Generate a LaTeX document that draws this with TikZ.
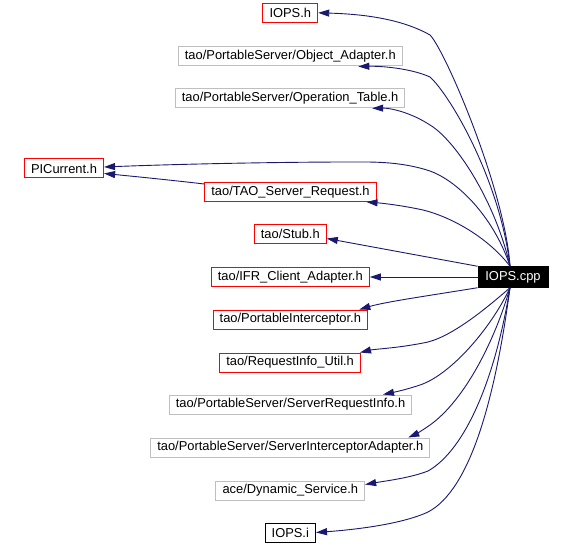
\documentclass[tikz,border=0pt]{standalone}
\usepackage{fontspec}
\setmainfont{Liberation Sans}
\usetikzlibrary{arrows.meta,calc}
\definecolor{edgeblue}{HTML}{191970}
\definecolor{boxred}{HTML}{FF0000}
\definecolor{boxgray}{HTML}{BFBFBF}
\tikzset{
  filebox/.style={draw, line width=1pt, rectangle, inner xsep=6.6pt, inner ysep=0pt,
    minimum height=19pt, font=\fontsize{12.9}{14}\selectfont, anchor=center},
  redbox/.style={filebox, draw=boxred},
  graybox/.style={filebox, draw=boxgray},
  blackbox/.style={filebox, draw=black},
  mainbox/.style={filebox, draw=black, fill=black, text=white, minimum width=70pt, minimum height=20.5pt},
  edge/.style={draw=edgeblue, line width=0.9pt, -{Triangle[length=11pt,width=7pt]}},
}
\begin{document}
\begin{tikzpicture}[x=1pt,y=-1pt]
\useasboundingbox (0,0) rectangle (572,545);
\fill[white] (0,0) rectangle (572,545);
% nodes
\node[redbox]   (iopsh) at (290.3,12.8)  {IOPS.h};
\node[graybox]  (oa)    at (290.3,56.5)  {tao/PortableServer/Object\_Adapter.h};
\node[graybox]  (ot)    at (290.1,98.3)  {tao/PortableServer/Operation\_Table.h};
\node[redbox]   (pic)   at (64,168.5)    {PICurrent.h};
\node[redbox]   (tao)   at (290.5,192)   {tao/TAO\_Server\_Request.h};
\node[redbox]   (stub)  at (290.3,234)   {tao/Stub.h};
\node[redbox]   (ifr)   at (290.3,277)   {tao/IFR\_Client\_Adapter.h};
\node[redbox]   (pi)    at (290.3,319.5) {tao/PortableInterceptor.h};
\node[redbox]   (riu)   at (290.1,362.5) {tao/RequestInfo\_Util.h};
\node[graybox]  (sri)   at (290.5,404.5) {tao/PortableServer/ServerRequestInfo.h};
\node[graybox]  (sia)   at (290.3,447.5) {tao/PortableServer/ServerInterceptorAdapter.h};
\node[graybox]  (ds)    at (290.3,490.5) {ace/Dynamic\_Service.h};
\node[blackbox] (iopsi) at (290.3,532.5) {IOPS.i};
\node[mainbox]  (cpp)   at (513,277)     {IOPS.cpp};
% edges
\coordinate (top) at ($(cpp.north)+(-3,0)$);
\coordinate (bot) at ($(cpp.south)+(-3,0)$);
\path[edge] (top) .. controls (505,190) and (445,50) .. (430,35)
  .. controls (400,18) and (360,14) .. (iopsh.east);
\path[edge] (top) .. controls (500,180) and (450,95) .. (430,77)
  .. controls (410,68) and (380,66) .. ($(oa.south)+(68,0)$);
\path[edge] (top) .. controls (495,200) and (455,140) .. (430,125)
  .. controls (410,112) and (390,108) .. ($(ot.south)+(82,0)$);
\path[edge] (top) .. controls (495,220) and (460,182) .. (430,171)
  .. controls (400,161) and (370,162) .. (351,162)
  .. controls (280,162) and (180,164) .. ($(pic.east)+(0,-1.5)$);
\path[edge] ($(tao.north west)+(0,2)$) .. controls (170,180) and (130,176) .. ($(pic.east)+(0,5)$);
\path[edge] (top) .. controls (490,240) and (455,218) .. (423,210)
  .. controls (400,205) and (380,203) .. ($(tao.south)+(76,0)$);
\path[edge] (cpp.north west) -- ($(stub.east)+(0,4.5)$);
\path[edge] (cpp.west) -- (ifr.east);
\path[edge] (cpp.south west) .. controls (420,297) and (385,302) .. ($(pi.north)+(69,0)$);
\path[edge] (bot) .. controls (490,305) and (455,335) .. (428,342)
  .. controls (400,348) and (375,349) .. ($(riu.north east)+(-1,0)$);
\path[edge] (bot) .. controls (490,330) and (450,375) .. (420,385)
  .. controls (405,390) and (395,392) .. ($(sri.north)+(92.5,0)$);
\path[edge] (bot) .. controls (495,340) and (465,400) .. (430,425)
  .. controls (420,432) and (414,435) .. ($(sia.north)+(118,0)$);
\path[edge] (bot) .. controls (495,380) and (465,450) .. (428,471)
  .. controls (410,478) and (385,481) .. ($(ds.east)+(0,-6)$);
\path[edge] (bot) .. controls (495,400) and (470,490) .. (428,512)
  .. controls (400,525) and (350,530) .. (iopsi.east);
\end{tikzpicture}
\end{document}
